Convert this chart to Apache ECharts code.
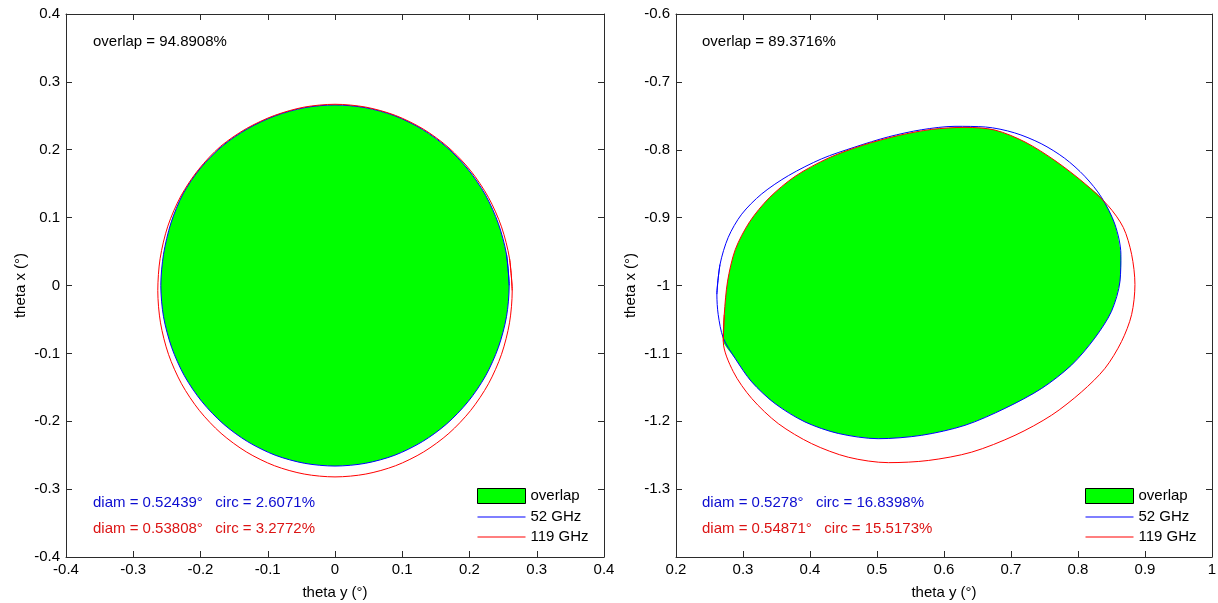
<!DOCTYPE html>
<html><head><meta charset="utf-8">
<script src="https://cdn.jsdelivr.net/npm/echarts@6/dist/echarts.min.js"></script>
<style>html,body{margin:0;padding:0;background:#fff}#c{width:1218px;height:603px}</style>
</head><body><div id="c"></div>
<script>
// ---------- data ----------
const leftXTicks = [-0.4, -0.3, -0.2, -0.1, 0, 0.1, 0.2, 0.3, 0.4];
const leftYTicks = [-0.4, -0.3, -0.2, -0.1, 0, 0.1, 0.2, 0.3, 0.4];
const rightXTicks = [0.2, 0.3, 0.4, 0.5, 0.6, 0.7, 0.8, 0.9, 1];
const rightYTicks = [-1.4, -1.3, -1.2, -1.1, -1, -0.9, -0.8, -0.7, -0.6];

// left panel, 52 GHz contour (theta y, theta x)
const blueLeft = [[0.259,0],[0.255,0.046],[0.243,0.091],[0.224,0.133],[0.198,0.171],[0.166,0.204],[0.130,0.230],[0.089,0.250],[0.045,0.262],[0,0.266],[-0.045,0.262],[-0.089,0.250],[-0.130,0.231],[-0.167,0.206],[-0.200,0.173],[-0.226,0.135],[-0.244,0.092],[-0.255,0.046],[-0.259,0],[-0.255,-0.046],[-0.243,-0.091],[-0.224,-0.133],[-0.198,-0.171],[-0.166,-0.204],[-0.130,-0.230],[-0.089,-0.250],[-0.045,-0.262],[0,-0.266],[0.045,-0.262],[0.089,-0.250],[0.130,-0.230],[0.166,-0.204],[0.198,-0.171],[0.224,-0.133],[0.243,-0.091],[0.255,-0.046]];
// left panel, 119 GHz contour
const redLeft = [[0.2635,-0.0075],[0.2595,0.040],[0.2476,0.0864],[0.2282,0.1298],[0.2018,0.169],[0.1694,0.2028],[0.1318,0.2302],[0.0901,0.2505],[0.0458,0.2628],[0,0.267],[-0.0458,0.2628],[-0.0901,0.2505],[-0.1318,0.2312],[-0.1704,0.2048],[-0.2028,0.171],[-0.2292,0.1318],[-0.2486,0.0874],[-0.2600,0.040],[-0.2635,-0.0075],[-0.2595,-0.055],[-0.2476,-0.1014],[-0.2282,-0.1448],[-0.2018,-0.184],[-0.1694,-0.2178],[-0.1318,-0.2452],[-0.0901,-0.2655],[-0.0458,-0.2778],[0,-0.282],[0.0458,-0.2778],[0.0901,-0.2655],[0.1318,-0.2452],[0.1694,-0.2178],[0.2018,-0.184],[0.2282,-0.1448],[0.2476,-0.1014],[0.2595,-0.055]];
// left panel overlap region (the 52 GHz contour lies inside the 119 GHz one)
const overlapLeft = blueLeft;

// right panel, 52 GHz contour
const blueRight = [[0.261,-1.013],[0.2657,-0.969],[0.278,-0.929],[0.298,-0.895],[0.328,-0.865],[0.368,-0.838],[0.4175,-0.8133],[0.467,-0.796],[0.517,-0.781],[0.5667,-0.7705],[0.6164,-0.7655],[0.662,-0.7665],[0.705,-0.775],[0.745,-0.791],[0.780,-0.8125],[0.810,-0.839],[0.835,-0.870],[0.855,-0.9096],[0.864,-0.954],[0.8627,-0.9936],[0.850,-1.038],[0.825,-1.0775],[0.7906,-1.117],[0.7458,-1.1516],[0.691,-1.181],[0.6313,-1.206],[0.5667,-1.2207],[0.502,-1.2257],[0.4423,-1.218],[0.3925,-1.201],[0.3478,-1.174],[0.313,-1.142],[0.288,-1.107],[0.2706,-1.0775],[0.263,-1.043]];
// right panel, 119 GHz contour
const redRight = [[0.2706,-1.0825],[0.272,-1.043],[0.277,-0.9936],[0.2885,-0.947],[0.310,-0.906],[0.339,-0.871],[0.378,-0.839],[0.428,-0.812],[0.480,-0.793],[0.532,-0.779],[0.5816,-0.770],[0.6313,-0.767],[0.676,-0.771],[0.721,-0.7886],[0.7657,-0.816],[0.8104,-0.850],[0.845,-0.8825],[0.8676,-0.9145],[0.880,-0.954],[0.885,-0.9985],[0.880,-1.043],[0.865,-1.0825],[0.8403,-1.122],[0.8055,-1.1566],[0.7607,-1.191],[0.706,-1.2207],[0.6413,-1.2455],[0.5766,-1.2578],[0.517,-1.261],[0.4572,-1.253],[0.4025,-1.233],[0.3527,-1.2035],[0.313,-1.1664],[0.2855,-1.127]];
// right panel overlap region (upper edge = 119 GHz, lower edge = 52 GHz)
const overlapRight = [[0.2706,-1.0825],[0.272,-1.043],[0.277,-0.9936],[0.2885,-0.947],[0.310,-0.906],[0.339,-0.871],[0.378,-0.839],[0.428,-0.812],[0.480,-0.793],[0.532,-0.779],[0.5816,-0.770],[0.6313,-0.767],[0.676,-0.771],[0.721,-0.7886],[0.7657,-0.816],[0.8104,-0.850],[0.837,-0.873],[0.855,-0.9096],[0.864,-0.954],[0.8627,-0.9936],[0.850,-1.038],[0.825,-1.0775],[0.7906,-1.117],[0.7458,-1.1516],[0.691,-1.181],[0.6313,-1.206],[0.5667,-1.2207],[0.502,-1.2257],[0.4423,-1.218],[0.3925,-1.201],[0.3478,-1.174],[0.313,-1.142],[0.288,-1.107]];

const seriesNames = ['overlap', '52 GHz', '119 GHz'];
const leftTexts = ['overlap = 94.8908%', 'diam = 0.52439°   circ = 2.6071%', 'diam = 0.53808°   circ = 3.2772%'];
const rightTexts = ['overlap = 89.3716%', 'diam = 0.5278°   circ = 16.8398%', 'diam = 0.54871°   circ = 15.5173%'];
const xTitle = 'theta y (°)';
const yTitle = 'theta x (°)';

// ---------- chart ----------
const FONT = 'Liberation Sans, Arial, Helvetica, sans-serif';
const GREEN = '#00ff00', BLUE = '#0000ff', RED = '#ff0000', AX = '#2b2b2b';
const BLUE_TXT = '#0c0cd0', RED_TXT = '#dc1414';
// thin horizontal stripe in the middle of the legend icon box
const LINE_ICON = 'path://M0,0L0.01,0L0,0Z M0,15L0.01,15L0,15Z M0,7.5L48,7.5L48,8.5L0,8.5Z';
const chart = echarts.init(document.getElementById('c'), null, {renderer: 'canvas'});

function axisCommon(ticks, gridIndex, position, labels, extra) {
  return Object.assign({
    type: 'value', gridIndex, position,
    min: ticks[0], max: ticks[ticks.length - 1], interval: 0.1,
    axisLine: {show: true, onZero: false, lineStyle: {color: AX, width: 1}},
    axisTick: {show: true, inside: true, length: 6, lineStyle: {color: AX, width: 1}},
    axisLabel: {show: labels, color: '#000', fontSize: 15, fontFamily: FONT, margin: position === 'bottom' ? 5 : 6},
    splitLine: {show: false}
  }, extra || {});
}
const nameStyle = {fontSize: 15, fontFamily: FONT, color: '#000'};

function fillSeries(name, pts, xi, yi) {
  return {
    type: 'custom', name, xAxisIndex: xi, yAxisIndex: yi, z: 1, silent: true,
    itemStyle: {color: GREEN},
    data: pts,
    renderItem: function (params, api) {
      if (params.dataIndex !== 0) return null;
      return {
        type: 'polygon',
        shape: {points: pts.map(p => api.coord(p)), smooth: 0.25},
        style: {fill: GREEN, stroke: null}
      };
    }
  };
}
function contourSeries(name, pts, color, xi, yi) {
  return {
    type: 'line', name, xAxisIndex: xi, yAxisIndex: yi, z: 3, silent: true,
    data: pts.concat([pts[0], pts[1]]), smooth: 0.3, symbol: 'none',
    lineStyle: {color, width: 1}, itemStyle: {color}
  };
}
function legendFor(left) {
  return {
    left, top: 488, orient: 'vertical', itemWidth: 48, itemHeight: 15, itemGap: 5,
    padding: 0, selectedMode: false,
    textStyle: {fontSize: 15, fontFamily: FONT, color: '#000'},
    data: [
      {name: seriesNames[0], icon: 'rect', itemStyle: {color: GREEN, borderColor: '#000', borderWidth: 1}},
      {name: seriesNames[1], icon: LINE_ICON, itemStyle: {color: BLUE, borderWidth: 0}},
      {name: seriesNames[2], icon: LINE_ICON, itemStyle: {color: RED, borderWidth: 0}}
    ]
  };
}
function txt(x, y, text, color) {
  return {type: 'text', x, y, silent: true,
    style: {text, fill: color, font: '15px ' + FONT, verticalAlign: 'middle', align: 'left'}};
}

chart.setOption({
  animation: false,
  backgroundColor: '#fff',
  grid: [
    {left: 66, top: 14, width: 538, height: 543, outerBoundsMode: 'none', containLabel: false},
    {left: 676, top: 14, width: 536, height: 543, outerBoundsMode: 'none', containLabel: false}
  ],
  xAxis: [
    axisCommon(leftXTicks, 0, 'bottom', true, {name: xTitle, nameLocation: 'middle', nameGap: 28, nameTextStyle: nameStyle}),
    axisCommon(leftXTicks, 0, 'top', false),
    axisCommon(rightXTicks, 1, 'bottom', true, {name: xTitle, nameLocation: 'middle', nameGap: 28, nameTextStyle: nameStyle}),
    axisCommon(rightXTicks, 1, 'top', false)
  ],
  yAxis: [
    axisCommon(leftYTicks, 0, 'left', true, {name: yTitle, nameLocation: 'middle', nameGap: 38, nameTextStyle: nameStyle}),
    axisCommon(leftYTicks, 0, 'right', false),
    axisCommon(rightYTicks, 1, 'left', true, {name: yTitle, nameLocation: 'middle', nameGap: 38, nameTextStyle: nameStyle, axisLabel: {show: true, color: '#000', fontSize: 15, fontFamily: FONT, margin: 6, showMinLabel: false}}),
    axisCommon(rightYTicks, 1, 'right', false)
  ],
  legend: [legendFor(477), legendFor(1085)],
  series: [
    fillSeries(seriesNames[0], overlapLeft, 0, 0),
    contourSeries(seriesNames[1], blueLeft, BLUE, 0, 0),
    contourSeries(seriesNames[2], redLeft, RED, 0, 0),
    fillSeries(seriesNames[0], overlapRight, 2, 2),
    contourSeries(seriesNames[1], blueRight, BLUE, 2, 2),
    contourSeries(seriesNames[2], redRight, RED, 2, 2)
  ],
  graphic: [
    txt(93, 42, leftTexts[0], '#000'),
    txt(93, 503, leftTexts[1], BLUE_TXT),
    txt(93, 529, leftTexts[2], RED_TXT),
    txt(702, 42, rightTexts[0], '#000'),
    txt(702, 503, rightTexts[1], BLUE_TXT),
    txt(702, 529, rightTexts[2], RED_TXT)
  ]
});
</script></body></html>
